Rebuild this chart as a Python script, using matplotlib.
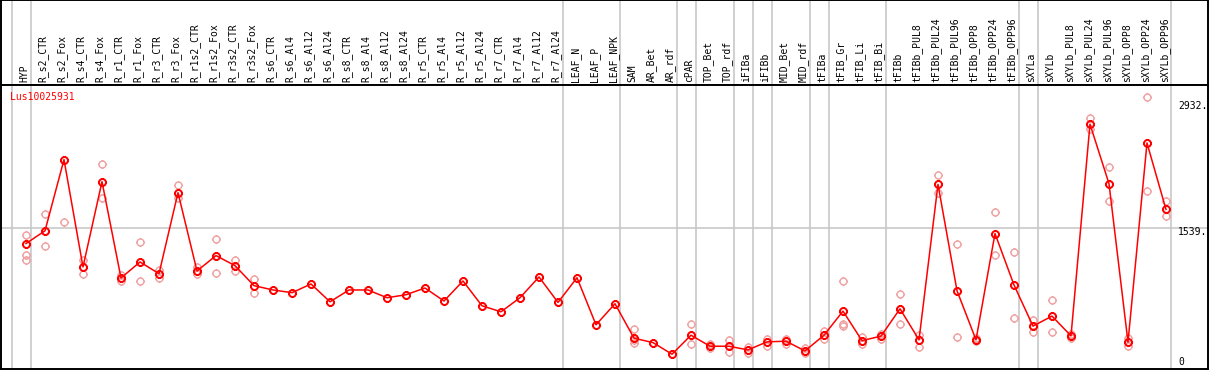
import numpy as np
import matplotlib
matplotlib.use("Agg")
import matplotlib.pyplot as plt
from matplotlib.path import Path
import matplotlib.transforms as mtransforms

gene = "Lus10025931"

samples = ["HYP", "R_s2_CTR", "R_s2_Fox", "R_s4_CTR", "R_s4_Fox", "R_r1_CTR", "R_r1_Fox",
           "R_r3_CTR", "R_r3_Fox", "R_r1s2_CTR", "R_r1s2_Fox", "R_r3s2_CTR", "R_r3s2_Fox",
           "R_s6_CTR", "R_s6_Al4", "R_s6_Al12", "R_s6_Al24", "R_s8_CTR", "R_s8_Al4",
           "R_s8_Al12", "R_s8_Al24", "R_r5_CTR", "R_r5_Al4", "R_r5_Al12", "R_r5_Al24",
           "R_r7_CTR", "R_r7_Al4", "R_r7_Al12", "R_r7_Al24", "LEAF_N", "LEAF_P", "LEAF_NPK",
           "SAM", "AR_Bet", "AR_rdf", "cPAR", "TOP_Bet", "TOP_rdf", "iFIBa", "iFIBb",
           "MID_Bet", "MID_rdf", "tFIBa", "tFIB_Gr", "tFIB_Li", "tFIB_Bi", "tFIBb",
           "tFIBb_PUL8", "tFIBb_PUL24", "tFIBb_PUL96", "tFIBb_OPP8", "tFIBb_OPP24",
           "tFIBb_OPP96", "sXYLa", "sXYLb", "sXYLb_PUL8", "sXYLb_PUL24", "sXYLb_PUL96",
           "sXYLb_OPP8", "sXYLb_OPP24", "sXYLb_OPP96"]

# mean expression per sample
means = [1368, 1504, 2264, 1118, 2029, 1000, 1171, 1046, 1911, 1075, 1239, 1132, 918,
         872, 843, 936, 746, 872, 872, 789, 821, 893, 754, 968, 703, 639, 789, 1011, 739,
         1003, 500, 725, 357, 310, 186, 389, 271, 271, 232, 318, 325, 221, 389, 646, 331,
         379, 671, 339, 2000, 864, 339, 1475, 925, 486, 593, 382, 2643, 2007, 314, 2442, 1732]

nan = np.nan
# replicates (upper / lower / extra), nan where none shown
rep_hi = [1464, 1678, 1600, 1196, 2222, 1035, 1386, 1089, 1989, 1118, 1421, 1189, 993,
          nan, nan, nan, nan, nan, nan, nan, nan, nan, nan, nan, nan, nan, nan, nan, nan,
          nan, nan, nan, 454, nan, nan, 504, 299, 339, 261, 350, 353, 253, 432, 968, 371,
          406, 829, 393, 2096, 1368, 360, 1700, 1279, 546, 768, 400, 2707, 2189, 357, 2932, 1818]
rep_lo = [1196, 1343, nan, 1046, 1850, 964, 968, 996, 1850, 1039, 1054, 1078, 839,
          nan, nan, nan, nan, nan, nan, nan, nan, nan, nan, nan, nan, nan, nan, nan, nan,
          nan, nan, nan, 304, nan, nan, 296, 250, 207, 203, 275, 293, 196, 346, 492, 293,
          350, 507, 267, 1903, 371, 331, 1246, 575, 428, 421, 357, 2589, 1818, 275, 1932, 1657]
rep_extra = {0: 1250, 1: 1507, 32: 340, 43: 510}

# number of samples in each block separated by grey lines
groups = [1, 28, 3, 3, 1, 2, 1, 1, 2, 1, 3, 7, 1, 7]

x = np.arange(len(samples))
bounds = np.concatenate([[-1], np.cumsum(groups) - 1]) + 0.25

# marker: open circle with four little ticks
ticks = Path([[0, 1], [0, 1.3], [0, -1], [0, -1.3], [1, 0], [1.3, 0], [-1, 0], [-1.3, 0]],
             [Path.MOVETO, Path.LINETO] * 4)
mk = Path.make_compound_path(Path.unit_circle(), ticks)

W, H = 1209, 370
fig = plt.figure(figsize=(W / 100, H / 100), dpi=100)
left, right = 1 / W, 1208 / W
ax_h = fig.add_axes([left, 1 - 85 / H, right - left, 85 / H])
ax = fig.add_axes([left, 1 / H, right - left, 284 / H], sharex=ax_h)

xmin, xmax = (1 - 26) / 19, (1208 - 26) / 19
ax.set_xlim(xmin, xmax)
ax.set_ylim(28, 3061)
ax_h.set_ylim(0, 1)

grey = "#c8c8c8"
for a in (ax, ax_h):
    for b in bounds:
        a.axvline(b, color=grey, lw=1.2, zorder=1)
    a.set_xticks([])
    a.set_yticks([])
    for s in a.spines.values():
        s.set_color("black")
        s.set_linewidth(1.4)
ax.axhline(1539, color=grey, lw=1.2, zorder=1)

font = "DejaVu Sans Mono"
for xi, name in zip(x, samples):
    ax_h.text(xi - 0.1, 0.04, name, rotation=90, ha="center", va="bottom",
              fontsize=7, family=font, color="black")

pale = "#f0a0a0"
for reps in (rep_hi, rep_lo):
    ax.plot(x, reps, ls="none", marker=mk, ms=6.5, mfc="none", mec=pale, mew=1.0, zorder=2)
ax.plot(list(rep_extra.keys()), list(rep_extra.values()), ls="none", marker=mk, ms=6.5,
        mfc="none", mec=pale, mew=1.0, zorder=2)
ax.plot(x, means, color="#ff0000", lw=1.1, marker=mk, ms=6.5, mfc="none", mec="#ff0000",
        mew=1.4, zorder=3)

ax.text(9 / 1207, 0.958, gene, transform=ax.transAxes, ha="left", va="center",
        fontsize=7, family=font, color="#ff0000")

trans = mtransforms.blended_transform_factory(ax.transAxes, ax.transData)
for val, lab, off in [(2932, "2932.", -9), (1539, "1539.", -4), (0, "0", 10)]:
    ax.annotate(lab, (1177 / 1207, val), xycoords=trans, xytext=(0, off),
                textcoords="offset pixels", ha="left", va="center", fontsize=7,
                family=font, color="black")

fig.savefig("out.png", dpi=100)
